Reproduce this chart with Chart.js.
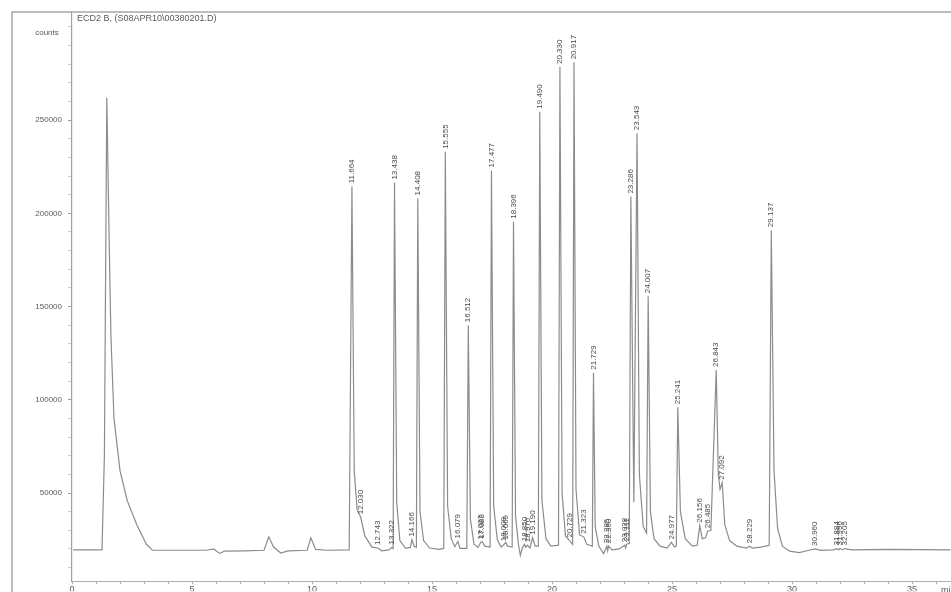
<!DOCTYPE html>
<html>
<head>
<meta charset="utf-8">
<script src="https://cdn.jsdelivr.net/npm/chart.js@4.4.1/dist/chart.umd.min.js"></script>
<style>
  html, body { margin: 0; padding: 0; background: #fff; overflow: hidden; }
  canvas { display: block; }
</style>
</head>
<body>
<canvas id="chrom" width="951" height="592"></canvas>
<script>
// Chromatogram: ECD2 B signal, counts vs retention time (min)

// Trace points: retention time (min) and detector counts
const traceTime = [
  0.05, 1.25, 1.35, 1.45, 1.55, 1.62, 1.75, 2.0, 2.3, 2.7, 3.1, 3.35,
  5.6, 5.9, 6.15, 6.35, 7.2, 8.0, 8.2, 8.4, 8.7, 9.0, 9.8, 9.95, 10.15, 10.6,
  11.55, 11.664, 11.76, 11.88, 12.03, 12.2, 12.5, 12.743, 12.9, 13.2, 13.322, 13.38,
  13.438, 13.53, 13.66, 13.9, 14.1, 14.166, 14.25, 14.35, 14.408, 14.5, 14.65, 14.9,
  15.3, 15.49, 15.555, 15.65, 15.8, 15.95, 16.079, 16.17, 16.45, 16.512, 16.6, 16.75,
  16.92, 17.027, 17.083, 17.2, 17.42, 17.477, 17.57, 17.72, 17.88, 18.009, 18.069, 18.15,
  18.34, 18.396, 18.48, 18.6, 18.68, 18.76, 18.85, 18.9, 18.976, 19.08, 19.19, 19.3,
  19.43, 19.49, 19.58, 19.75, 19.95, 20.27, 20.33, 20.42, 20.56, 20.729, 20.86, 20.917,
  21.0, 21.15, 21.323, 21.45, 21.68, 21.729, 21.8, 21.95, 22.15, 22.285, 22.32, 22.36,
  22.5, 22.8, 23.028, 23.07, 23.111, 23.22, 23.286, 23.41, 23.543, 23.64, 23.8, 23.94,
  24.007, 24.1, 24.25, 24.5, 24.8, 24.977, 25.1, 25.18, 25.241, 25.35, 25.55, 25.85,
  26.05, 26.156, 26.26, 26.4, 26.485, 26.62, 26.843, 26.93, 27.0, 27.092, 27.2, 27.4,
  27.7, 28.1, 28.229, 28.35, 28.7, 29.05, 29.137, 29.25, 29.4, 29.6, 29.9, 30.3,
  30.7, 30.96, 31.2, 31.7, 31.884, 31.95, 31.996, 32.1, 32.205, 32.5, 34.0, 36.6
];
const traceCounts = [
  19500, 19500, 70000, 262000, 185000, 135000, 90000, 62000, 46000, 33000, 22500, 19300,
  19300, 20000, 17600, 18800, 19000, 19300, 26500, 21000, 17800, 19000, 19300, 26000, 19800, 19300,
  19500, 214500, 62000, 41000, 37000, 27000, 21000, 20500, 19000, 19500, 20800, 20200,
  216500, 45000, 24500, 20300, 20800, 25000, 21500, 20800, 208000, 40000, 24500, 20500,
  19800, 20300, 233000, 43000, 25500, 21200, 24000, 20300, 20300, 140000, 36000, 22500,
  20800, 23500, 24000, 21500, 21000, 223000, 43000, 25000, 21000, 22500, 23500, 21500,
  21000, 195500, 38000, 22500, 16500, 20500, 22500, 21000, 22000, 20500, 26000, 21500,
  21500, 254500, 46000, 25500, 21500, 22000, 278500, 50000, 27000, 24500, 22500, 281000,
  52000, 27500, 26500, 22500, 21500, 114500, 32000, 21500, 17500, 21500, 19000, 21500,
  19500, 20000, 22000, 20500, 22500, 23000, 209000, 45000, 243000, 60000, 32000, 28500,
  155500, 40000, 25500, 21500, 20500, 23500, 21000, 21500, 96000, 40000, 25500, 21500,
  22000, 32500, 25500, 26000, 29500, 30000, 116000, 60000, 52000, 55500, 33000, 24500,
  21500, 20500, 21500, 20500, 21000, 22000, 191000, 62000, 31000, 21500, 18800, 18000,
  19300, 20000, 19200, 19500, 20200, 19500, 20200, 19600, 20200, 19500, 19800, 19500
];

// Integrated peaks (retention times printed above each peak)
const peakTimes = [
  11.664, 12.030, 12.743, 13.322, 13.438, 14.166, 14.408, 15.555, 16.079, 16.512,
  17.027, 17.083, 17.477, 18.009, 18.069, 18.396, 18.850, 18.976, 19.190, 19.490,
  20.330, 20.729, 20.917, 21.323, 21.729, 22.285, 22.360, 23.028, 23.111, 23.286,
  23.543, 24.007, 24.977, 25.241, 26.156, 26.485, 26.843, 27.092, 28.229, 29.137,
  30.960, 31.884, 31.996, 32.205
];

// Axis ticks
const yTickValues = [50000, 100000, 150000, 200000, 250000];
const xTickValues = [0, 5, 10, 15, 20, 25, 30, 35];

const titleText = "ECD2 B, (S08APR10\\00380201.D)";
const yUnitText = "counts";
const xUnitText = "min";

const INK = "#5a5a5a";
const LINE = "#8c8c8c";
const FONT = "'Liberation Sans', Arial, sans-serif";

// ── peak labels, frame and captions ─────────────────────────────────────────
const decorPlugin = {
  id: "decor",
  beforeDraw(chart) {
    const c = chart.ctx;
    c.save();
    c.fillStyle = "#fff";
    c.fillRect(0, 0, chart.width, chart.height);
    c.restore();
  },
  afterDraw(chart) {
    const c = chart.ctx;
    const { x, y } = chart.scales;
    const area = chart.chartArea;

    c.save();
    // outer frame (left and top edges)
    c.strokeStyle = "#a8a8a8";
    c.lineWidth = 1.5;
    c.beginPath();
    c.moveTo(12, chart.height);
    c.lineTo(12, area.top);
    c.lineTo(chart.width, area.top);
    c.stroke();

    // captions
    c.fillStyle = INK;
    c.textBaseline = "middle";
    c.font = "9px " + FONT;
    c.textAlign = "left";
    c.fillText(titleText, 77, 19);
    c.font = "8px " + FONT;
    c.textAlign = "center";
    c.fillText(yUnitText, 47, 33);
    c.font = "9px " + FONT;
    c.textAlign = "left";
    c.fillText(xUnitText, 941, area.bottom + 9);

    // retention time labels, rotated, sitting on each apex
    c.font = "8px " + FONT;
    c.fillStyle = "#4a4a4a";
    c.textAlign = "left";
    c.textBaseline = "middle";
    peakTimes.forEach(t => {
      let best = 0;
      traceTime.forEach((tt, i) => {
        if (Math.abs(tt - t) < Math.abs(traceTime[best] - t)) best = i;
      });
      const px = x.getPixelForValue(t);
      const py = y.getPixelForValue(traceCounts[best]);
      c.save();
      c.translate(px, py - 3);
      c.rotate(-Math.PI / 2);
      c.fillText(t.toFixed(3), 0, 0);
      c.restore();
    });
    c.restore();
  },
};

new Chart(document.getElementById("chrom"), {
  type: "line",
  data: {
    datasets: [{
      label: "ECD2 B",
      data: traceTime.map((t, i) => ({ x: t, y: traceCounts[i] })),
      borderColor: LINE,
      borderWidth: 1.2,
      pointRadius: 0,
      tension: 0,
      fill: false,
    }],
  },
  options: {
    responsive: false,
    animation: false,
    devicePixelRatio: 1,
    layout: { padding: { top: 12, right: 0, left: 0, bottom: 0 } },
    plugins: {
      legend: { display: false },
      tooltip: { enabled: false },
    },
    scales: {
      x: {
        type: "linear",
        min: 0,
        max: 36.625,
        afterFit: s => { s.height = 10; },
        afterBuildTicks: s => {
          const ticks = [];
          for (let v = 0; v <= 36; v++) ticks.push({ value: v });
          s.ticks = ticks;
        },
        border: { color: "#b0b0b0", width: 1 },
        grid: {
          drawOnChartArea: false,
          tickLength: 3,
          tickColor: "#b0b0b0",
        },
        ticks: {
          padding: 0,
          maxRotation: 0,
          autoSkip: false,
          color: INK,
          font: { family: FONT, size: 9 },
          callback: v => xTickValues.includes(v) ? String(v) : "",
        },
      },
      y: {
        type: "linear",
        min: 2700,
        max: 308000,
        afterFit: s => { s.width = 72; },
        afterBuildTicks: s => {
          const ticks = [];
          for (let v = 10000; v <= 300000; v += 10000) ticks.push({ value: v });
          s.ticks = ticks;
        },
        border: { color: "#a0a0a0", width: 1.2 },
        grid: {
          drawOnChartArea: false,
          tickLength: 4,
          tickColor: ctx => yTickValues.includes(ctx.tick && ctx.tick.value) ? "#999" : "#d0d0d0",
        },
        ticks: {
          padding: 6,
          autoSkip: false,
          color: INK,
          font: { family: FONT, size: 8 },
          callback: v => yTickValues.includes(v) ? String(v) : "",
        },
      },
    },
  },
  plugins: [decorPlugin],
});
</script>
</body>
</html>
